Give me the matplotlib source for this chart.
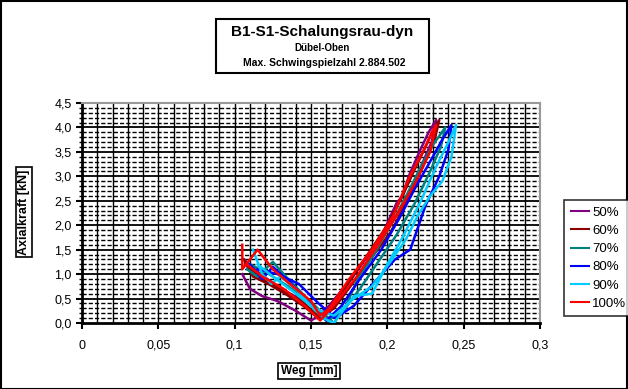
import matplotlib
matplotlib.use("Agg")
import matplotlib.pyplot as plt
from matplotlib.patches import Rectangle
from matplotlib.ticker import MultipleLocator, FuncFormatter

plt.rcParams['font.family'] = ['Liberation Sans', 'DejaVu Sans']

labels = ["50%", "60%", "70%", "80%", "90%", "100%"]
colors = ["#800080", "#8B0000", "#008080", "#0000FF", "#00CCFF", "#FF0000"]

x50 = [0.105, 0.110, 0.118, 0.128, 0.140, 0.150, 0.158, 0.170, 0.185, 0.192, 0.198, 0.206, 0.210, 0.214, 0.221, 0.227, 0.232,
       0.229, 0.222, 0.212, 0.200, 0.188, 0.175, 0.162, 0.153, 0.142, 0.128, 0.115, 0.106]
y50 = [1.00, 0.70, 0.55, 0.45, 0.25, 0.05, 0.20, 0.65, 1.30, 1.55, 1.90, 2.45, 2.60, 3.00, 3.50, 3.90, 4.15,
       3.70, 3.20, 2.50, 1.90, 1.40, 0.85, 0.35, 0.15, 0.50, 0.75, 1.05, 1.30]

x60 = [0.106, 0.112, 0.122, 0.133, 0.145, 0.155, 0.162, 0.172, 0.186, 0.200, 0.210, 0.218, 0.225, 0.230, 0.234,
       0.231, 0.224, 0.214, 0.202, 0.190, 0.177, 0.165, 0.156, 0.144, 0.130, 0.116, 0.107]
y60 = [1.30, 0.95, 0.80, 0.60, 0.35, 0.10, 0.25, 0.70, 1.35, 2.00, 2.60, 3.15, 3.60, 3.95, 4.15,
       3.75, 3.25, 2.55, 1.85, 1.35, 0.80, 0.30, 0.10, 0.45, 0.70, 0.95, 1.20]

x70 = [0.108, 0.115, 0.125, 0.135, 0.146, 0.156, 0.165, 0.172, 0.180, 0.192, 0.204, 0.214, 0.222, 0.230, 0.238,
       0.235, 0.228, 0.218, 0.206, 0.194, 0.182, 0.170, 0.160, 0.148, 0.135, 0.120, 0.110]
y70 = [1.10, 0.95, 1.25, 0.90, 0.55, 0.25, 0.00, 0.30, 0.85, 1.45, 2.10, 2.70, 3.20, 3.65, 4.00,
       3.60, 3.10, 2.45, 1.80, 1.25, 0.70, 0.20, 0.05, 0.45, 0.75, 1.05, 1.20]

x80 = [0.110, 0.118, 0.125, 0.132, 0.142, 0.152, 0.160, 0.170, 0.182, 0.196, 0.208, 0.218, 0.228, 0.236, 0.242,
       0.240, 0.234, 0.225, 0.215, 0.205, 0.192, 0.178, 0.166, 0.155, 0.142, 0.128, 0.115]
y80 = [1.20, 0.90, 1.15, 0.95, 0.65, 0.30, 0.05, 0.35, 0.90, 1.50, 2.15, 2.75, 3.30, 3.75, 4.05,
       3.55, 3.00, 2.40, 1.50, 1.30, 0.85, 0.35, 0.10, 0.40, 0.80, 1.00, 1.10]

x90 = [0.112, 0.118, 0.124, 0.130, 0.140, 0.150, 0.158, 0.165, 0.178, 0.190, 0.200, 0.210, 0.222, 0.232, 0.240, 0.245,
       0.242, 0.236, 0.228, 0.220, 0.212, 0.202, 0.190, 0.178, 0.165, 0.152, 0.138, 0.125, 0.115]
y90 = [1.50, 1.00, 0.80, 0.95, 0.70, 0.35, 0.10, 0.00, 0.55, 0.60, 1.20, 1.75, 2.50, 3.20, 3.70, 4.05,
       3.40, 2.90, 2.60, 2.20, 1.70, 1.25, 0.75, 0.50, 0.15, 0.30, 0.65, 0.95, 1.20]

x100 = [0.105, 0.105, 0.115, 0.125, 0.138, 0.150, 0.156, 0.162, 0.175, 0.190, 0.204, 0.214, 0.224, 0.230, 0.232,
        0.228, 0.218, 0.206, 0.194, 0.180, 0.166, 0.156, 0.146, 0.132, 0.118, 0.108]
y100 = [1.60, 1.10, 1.50, 1.10, 0.75, 0.45, 0.15, 0.30, 0.90, 1.50, 2.20, 2.95, 3.55, 3.95, 4.05,
        3.50, 2.85, 2.20, 1.60, 0.95, 0.40, 0.05, 0.35, 0.70, 0.95, 1.20]

xs = [x50, x60, x70, x80, x90, x100]
ys = [y50, y60, y70, y80, y90, y100]

W, H = 628, 389
fig = plt.figure(figsize=(W / 100, H / 100), dpi=100)

def fx(px):
    return px / W

def fy(py):
    return 1 - py / H

ax = fig.add_axes([fx(82), fy(323), fx(540) - fx(82), fy(103) - fy(323)])
ax.set_xlim(0, 0.3)
ax.set_ylim(0, 4.5)

ax.xaxis.set_major_locator(MultipleLocator(0.05))
ax.yaxis.set_major_locator(MultipleLocator(0.5))
ax.yaxis.set_minor_locator(MultipleLocator(0.1))
for i in range(1, 30):
    ax.axvline(i * 0.01, color="black", lw=1.0, zorder=1)
for j in range(1, 45):
    v = j * 0.1
    if j % 5 == 0:
        ax.axhline(v, color="black", lw=1.3, zorder=1)
    else:
        ax.axhline(v, color="black", lw=1.0, ls=(0, (3, 1.5)), zorder=1)

lines = []
for x, y, c, lab in zip(xs, ys, colors, labels):
    ln, = ax.plot(x, y, color=c, lw=1.8, label=lab, zorder=3)
    lines.append(ln)

fmt = FuncFormatter(lambda v, p: ("%g" % round(v, 3)).replace(".", ","))
yfmt = FuncFormatter(lambda v, p: ("%.1f" % v).replace(".", ","))
ax.xaxis.set_major_formatter(fmt)
ax.yaxis.set_major_formatter(yfmt)
ax.tick_params(axis="both", which="major", labelsize=9, direction="out", length=4, width=1.5)
ax.tick_params(axis="y", which="minor", direction="out", length=2, width=1)
ax.tick_params(axis="x", pad=8)

for s in ["top", "right"]:
    ax.spines[s].set_color("#999999")
    ax.spines[s].set_linewidth(1.5)
for s in ["left", "bottom"]:
    ax.spines[s].set_color("black")
    ax.spines[s].set_linewidth(2)

fig.patches.append(Rectangle((fx(216), fy(73)), fx(429) - fx(216), fy(19) - fy(73),
                             transform=fig.transFigure, fill=False, ec="black", lw=1.5))
fig.text(fx(322), fy(32), "B1-S1-Schalungsrau-dyn", ha="center", va="center", fontsize=11, fontweight="bold")
fig.text(fx(322), fy(48), "Dübel-Oben", ha="center", va="center", fontsize=7, fontweight="bold")
fig.text(fx(324), fy(63), "Max. Schwingspielzahl 2.884.502", ha="center", va="center", fontsize=7.5, fontweight="bold")

fig.text(fx(24), fy(212), "Axialkraft [kN]", ha="center", va="center", rotation=90,
         fontsize=9, fontweight="bold",
         bbox=dict(boxstyle="square,pad=0.15", fc="white", ec="black", lw=1.2))
fig.text(fx(309), fy(371), "Weg [mm]", ha="center", va="center",
         fontsize=8.5, fontweight="bold",
         bbox=dict(boxstyle="square,pad=0.2", fc="white", ec="black", lw=1.2))

leg = fig.legend(handles=lines, labels=labels, loc="upper left",
                 bbox_to_anchor=(fx(564), fy(200)), fontsize=9.5, frameon=True,
                 handlelength=1.4, handletextpad=0.25, labelspacing=0.45,
                 borderpad=0.5, borderaxespad=0, fancybox=False)
leg.get_frame().set_edgecolor("black")
leg.get_frame().set_linewidth(1.2)
for l in leg.get_lines():
    l.set_linewidth(1.5)

fig.patches.append(Rectangle((0.001, 0.001), 0.997, 0.997, transform=fig.transFigure,
                             fill=False, ec="black", lw=1.5))

fig.savefig("out.png", dpi=100)
